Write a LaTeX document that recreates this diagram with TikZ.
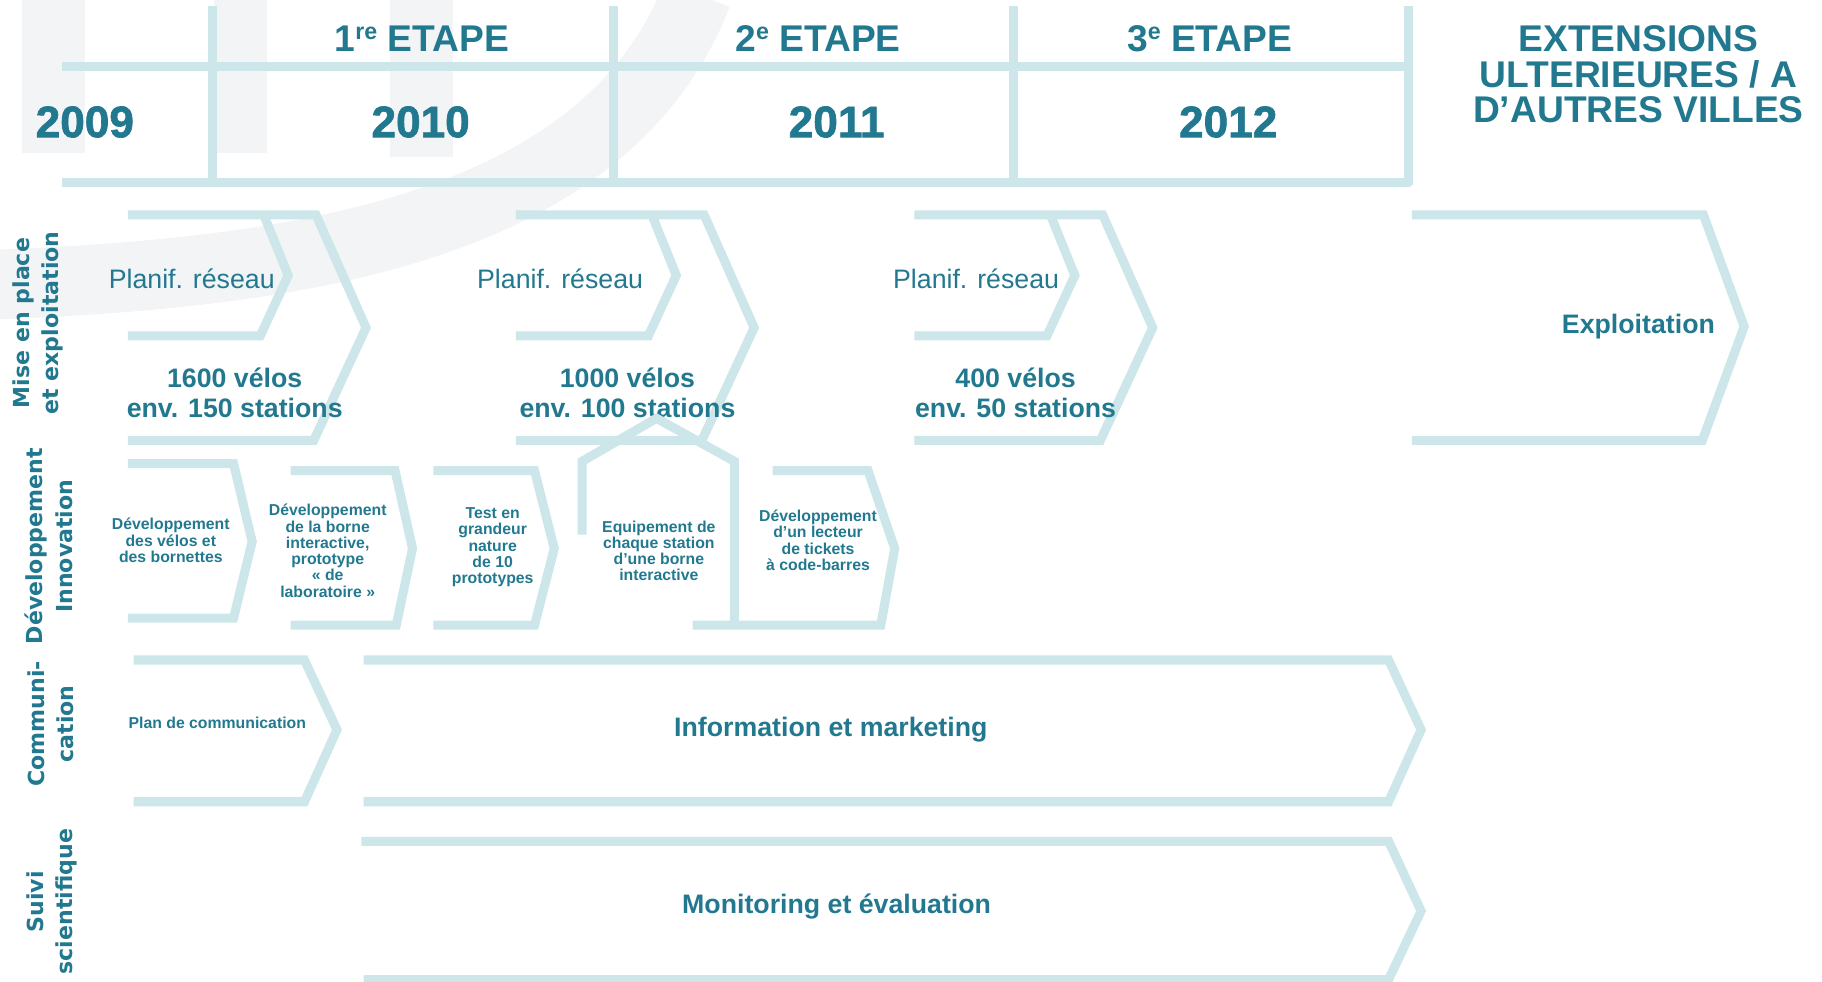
\documentclass[tikz,border=0pt]{standalone}
\usepackage{fontspec}
\setmainfont{Liberation Sans}
\newfontfamily\sidefont{DejaVu Sans}
\newfontfamily\yearfont{Liberation Sans Bold}[FakeBold=1.5]
\usetikzlibrary{positioning}
\definecolor{bandcol}{HTML}{CCE6E9}
\definecolor{txtcol}{HTML}{22798F}
\definecolor{wmark}{HTML}{F3F4F6}

\begin{document}
\begin{tikzpicture}[x=0.5pt,y=-0.5pt,
		band/.style={draw=bandcol, line width=3.9pt},
		ghost/.style={fill=wmark, draw=none},
		headtxt/.style={text=txtcol, font=\bfseries\fontsize{16}{15.25}\selectfont, align=center, inner sep=0pt},
		yeartxt/.style={text=txtcol, font=\yearfont\fontsize{19}{19}\selectfont, inner sep=0pt},
		sidetxt/.style={text=txtcol, font=\sidefont\bfseries\fontsize{9.5}{12.5}\selectfont, align=center, rotate=90, inner sep=0pt},
		bigtxt/.style={text=txtcol, font=\bfseries\fontsize{11.5}{13}\selectfont, align=center, inner sep=0pt},
		plantxt/.style={text=txtcol, font=\fontsize{11.5}{13}\selectfont, inner sep=0pt},
		smalltxt/.style={text=txtcol, font=\bfseries\fontsize{6.8}{7}\selectfont, align=center, inner sep=0pt},
	]
	\useasboundingbox (0,0) rectangle (1568,845);

	%Watermark
	\fill[ghost] (19,0) rectangle (73,132);
	\fill[ghost] (184,0) rectangle (230,132);
	\fill[ghost] (336,0) rectangle (390,135);
	\draw[wmark, line width=30pt] (-5,245) .. controls (250,235) and (520,200) .. (600,-5);

	%Header grid
	\draw[band] (53,57) -- (1212,57);
	\draw[band] (53,157) -- (1214,157);
	\draw[band] (183,5) -- (183,155);
	\draw[band] (528,5) -- (528,155);
	\draw[band] (872,5) -- (872,155);
	\draw[band] (1212,5) -- (1212,159);

	%Header texts
	\node[headtxt] (etape1) at (363,33) {1{\fontsize{10}{10}\selectfont\raisebox{5pt}{re}} ETAPE};
	\node[headtxt] (etape2) at (704,33) {2{\fontsize{10}{10}\selectfont\raisebox{5pt}{e}} ETAPE};
	\node[headtxt] (etape3) at (1041,33) {3{\fontsize{10}{10}\selectfont\raisebox{5pt}{e}} ETAPE};
	\node[headtxt] (ext)    at (1410,64) {EXTENSIONS\\ULTERIEURES / A\\D’AUTRES VILLES};
	\node[yeartxt] (y2009)  at (73,105)   {2009};
	\node[yeartxt] (y2010)  at (362,105)  {2010};
	\node[yeartxt] (y2011)  at (720,105)  {2011};
	\node[yeartxt] (y2012)  at (1057,105) {2012};

	%Row labels
	\node[sidetxt] (rowmise)  at (33,278) {Mise en place\\et exploitation};
	\node[sidetxt] (rowdev)   at (42,470) {Développement\\Innovation};
	\node[sidetxt] (rowcom)   at (44,623) {Communi-\\cation};
	\node[sidetxt] (rowsuivi) at (45,776) {Suivi\\scientifique};

	%Mise en place et exploitation
	\draw[band] (110,185) -- (272,185) -- (315,282) -- (270,379) -- (110,379);
	\draw[band] (227,185) -- (248,237) -- (224,289) -- (110,289);
	\draw[band] (444,185) -- (606,185) -- (649,282) -- (604,379) -- (444,379);
	\draw[band] (561,185) -- (582,237) -- (558,289) -- (444,289);
	\draw[band] (787,185) -- (949,185) -- (992,282) -- (947,379) -- (787,379);
	\draw[band] (904,185) -- (925,237) -- (901,289) -- (787,289);
	\draw[band] (1215,185) -- (1466,185) -- (1501,281) -- (1465,379) -- (1215,379);

	\node[plantxt] (plan1) at (165,240) {Planif. réseau};
	\node[plantxt] (plan2) at (482,240) {Planif. réseau};
	\node[plantxt] (plan3) at (840,240) {Planif. réseau};
	\node[bigtxt] (velos1) at (202,338) {1600 vélos\\env. 150 stations};
	\node[bigtxt] (velos2) at (540,338) {1000 vélos\\env. 100 stations};
	\node[bigtxt] (velos3) at (874,338) {400 vélos\\env. 50 stations};
	\node[bigtxt] (exploit) at (1410,281) {Exploitation};

	%Developpement Innovation
	\draw[band] (110,399) -- (201,399) -- (217,466) -- (201,532) -- (110,532);
	\draw[band] (250,405) -- (340,405) -- (355,472) -- (341,538) -- (250,538);
	\draw[band] (373,405) -- (460,405) -- (477,472) -- (460,538) -- (373,538);
	\draw[band] (501,460) -- (501,397) -- (565,360) -- (632,397) -- (632,538);
	\draw[band] (665,405) -- (747,405) -- (770,472) -- (758,538) -- (596,538);

	\node[smalltxt] (devvelo)  at (147,465) {Développement\\des vélos et\\des bornettes};
	\node[smalltxt] (devborne) at (282,474) {Développement\\de la borne\\interactive,\\prototype\\« de\\laboratoire »};
	\node[smalltxt] (test)     at (424,471) {Test en\\grandeur\\nature\\de 10\\prototypes};
	\node[smalltxt] (equip)    at (567,474) {Equipement de\\chaque station\\d’une borne\\interactive};
	\node[smalltxt] (lecteur)  at (704,465) {Développement\\d’un lecteur\\de tickets\\à code-barres};

	%Communication
	\draw[band] (115,568) -- (262,568) -- (290,628) -- (262,690) -- (115,690);
	\draw[band] (313,568) -- (1195,568) -- (1223,628) -- (1195,690) -- (313,690);
	\node[smalltxt] (plancom) at (187,622) {Plan de communication};
	\node[bigtxt] (info) at (715,628) {Information et marketing};

	%Suivi scientifique
	\draw[band] (311,724) -- (1195,724) -- (1223,784) -- (1195,843) -- (313,843);
	\node[bigtxt] (monitor) at (720,780) {Monitoring et évaluation};
\end{tikzpicture}
\end{document}
